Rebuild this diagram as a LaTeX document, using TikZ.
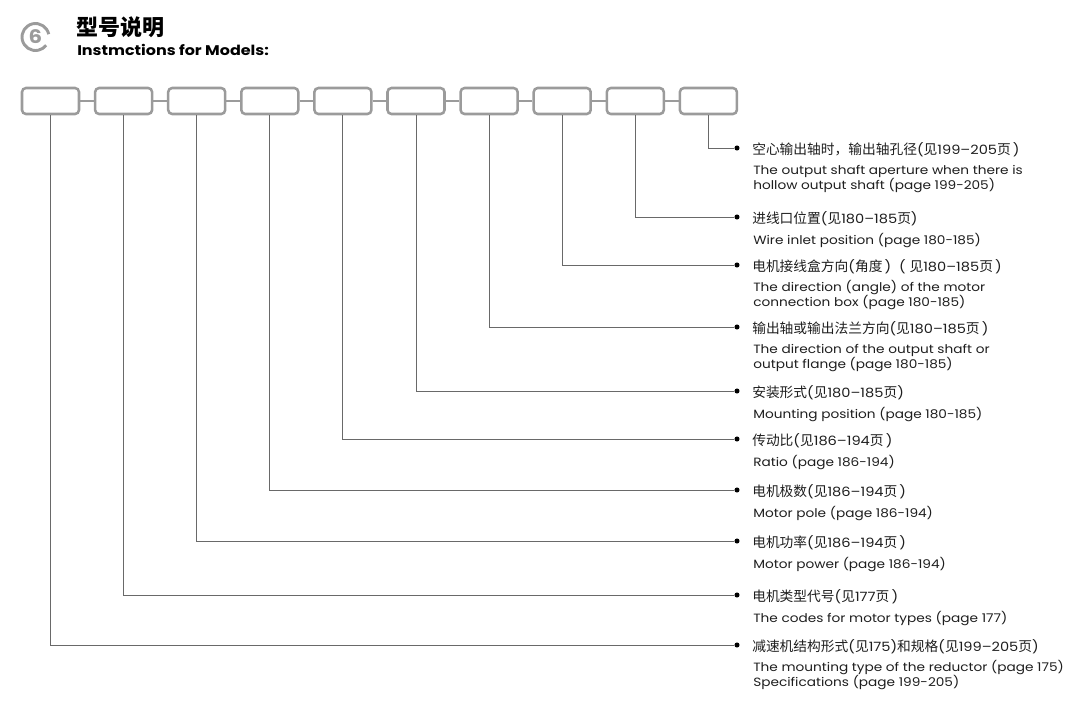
\documentclass[tikz,border=0pt]{standalone}
\usepackage{fontspec}
\setmainfont{Poppins}[FakeStretch=1.14]
\newfontfamily\cjk{Noto Sans CJK SC}
\usetikzlibrary{calc}

\definecolor{boxgray}{RGB}{155,155,155}
\definecolor{leadgray}{RGB}{105,105,105}
\definecolor{inkgray}{RGB}{30,30,30}

\newcommand\cn[1]{{\fontsize{10.3pt}{12pt}\selectfont\cjk #1}}
\newcommand\tightlines{\lineskiplimit-20pt\relax}

\tikzset{
  modelbox/.style={draw=boxgray, line width=1.9pt, rounded corners=3pt, minimum width=42.75pt, minimum height=19.5pt, inner sep=0pt},
  boxlink/.style={draw=boxgray, line width=0.8pt},
  leadline/.style={draw=leadgray, line width=0.7pt},
  leaddot/.style={circle, fill=black, inner sep=0pt, minimum size=3.8pt},
  cndesc/.style={anchor=west, inner sep=0pt, text=inkgray, font=\fontsize{9.6pt}{12pt}\selectfont},
  endesc/.style={anchor=base west, inner sep=0pt, align=left, text=inkgray, font=\fontsize{9pt}{11pt}\selectfont\tightlines},
  twoline/.style={yshift=-11pt},
}

\begin{document}
\begin{tikzpicture}[x=0.75pt,y=0.75pt,yscale=-1,xscale=1]
\useasboundingbox (0,0) rectangle (1077,701);

% Heading
\node [text=boxgray, font=\fontsize{14pt}{14pt}\selectfont\bfseries] (num) at (35.5,37) {6};
\draw [boxgray, line width=2.2pt] ($(num.center)+(-12:13.5)$) arc [start angle=-12, end angle=-322, radius=13.5];
\node [anchor=west, inner sep=0pt, font=\fontsize{16.5pt}{17pt}\selectfont\cjk\bfseries] (title) at (76,27.5) {型号说明};
\node [anchor=base west, inner sep=0pt, font=\fontsize{10.5pt}{12pt}\selectfont\bfseries] (subtitle) at (77,55) {Instmctions for Models:};

% Model code boxes
\node [modelbox] (m1) at (50.5,101) {};
\node [modelbox] (m2) at (123.6,101) {};
\node [modelbox] (m3) at (196.7,101) {};
\node [modelbox] (m4) at (269.8,101) {};
\node [modelbox] (m5) at (342.9,101) {};
\node [modelbox] (m6) at (416,101) {};
\node [modelbox] (m7) at (489.1,101) {};
\node [modelbox] (m8) at (562.2,101) {};
\node [modelbox] (m9) at (635.3,101) {};
\node [modelbox] (m10) at (708.4,101) {};
\draw [boxlink] (m1) -- (m2) (m2) -- (m3) (m3) -- (m4) (m4) -- (m5) (m5) -- (m6) (m6) -- (m7) (m7) -- (m8) (m8) -- (m9) (m9) -- (m10);

% Dots
\node [leaddot] (d10) at (737,148) {};
\node [leaddot] (d9) at (737,217) {};
\node [leaddot] (d8) at (737,265) {};
\node [leaddot] (d7) at (737,327) {};
\node [leaddot] (d6) at (737,391) {};
\node [leaddot] (d5) at (737,439) {};
\node [leaddot] (d4) at (737,490) {};
\node [leaddot] (d3) at (737,541) {};
\node [leaddot] (d2) at (737,595) {};
\node [leaddot] (d1) at (737,645) {};

% Leads
\draw [leadline] (m10.south) |- (d10);
\draw [leadline] (m9.south) |- (d9);
\draw [leadline] (m8.south) |- (d8);
\draw [leadline] (m7.south) |- (d7);
\draw [leadline] (m6.south) |- (d6);
\draw [leadline] (m5.south) |- (d5);
\draw [leadline] (m4.south) |- (d4);
\draw [leadline] (m3.south) |- (d3);
\draw [leadline] (m2.south) |- (d2);
\draw [leadline] (m1.south) |- (d1);

% Text Node
\node [cndesc] (c10) at ($(d10)+(15,1.5)$) {\cn{空心输出轴时，输出轴孔径}(\cn{见}199–205\cn{页}\,)};
\node [endesc, twoline] (e10) at ($(d10)+(16,26.5)$) {The output shaft aperture when there is\\hollow output shaft (page 199-205)};
% Text Node
\node [cndesc] (c9) at ($(d9)+(15,1.5)$) {\cn{进线口位置}(\cn{见}180–185\cn{页})};
\node [endesc] (e9) at ($(d9)+(16,27)$) {Wire inlet position (page 180-185)};
% Text Node
\node [cndesc] (c8) at ($(d8)+(15,1.5)$) {\cn{电机接线盒方向}(\cn{角度}\,)\ \ (\ \cn{见}180–185\cn{页}\,)};
\node [endesc, twoline] (e8) at ($(d8)+(16,26.5)$) {The direction (angle) of the motor\\connection box (page 180-185)};
% Text Node
\node [cndesc] (c7) at ($(d7)+(15,1.5)$) {\cn{输出轴或输出法兰方向}(\cn{见}180–185\cn{页}\,)};
\node [endesc, twoline] (e7) at ($(d7)+(16,26.5)$) {The direction of the output shaft or\\output flange (page 180-185)};
% Text Node
\node [cndesc] (c6) at ($(d6)+(15,1.5)$) {\cn{安装形式}(\cn{见}180–185\cn{页})};
\node [endesc] (e6) at ($(d6)+(16,27)$) {Mounting position (page 180-185)};
% Text Node
\node [cndesc] (c5) at ($(d5)+(15,1.5)$) {\cn{传动比}(\cn{见}186–194\cn{页}\,)};
\node [endesc] (e5) at ($(d5)+(16,27)$) {Ratio (page 186-194)};
% Text Node
\node [cndesc] (c4) at ($(d4)+(15,1.5)$) {\cn{电机极数}(\cn{见}186–194\cn{页}\,)};
\node [endesc] (e4) at ($(d4)+(16,27)$) {Motor pole (page 186-194)};
% Text Node
\node [cndesc] (c3) at ($(d3)+(15,1.5)$) {\cn{电机功率}(\cn{见}186–194\cn{页}\,)};
\node [endesc] (e3) at ($(d3)+(16,27)$) {Motor power (page 186-194)};
% Text Node
\node [cndesc] (c2) at ($(d2)+(15,1.5)$) {\cn{电机类型代号}(\cn{见}177\cn{页}\,)};
\node [endesc] (e2) at ($(d2)+(16,27)$) {The codes for motor types (page 177)};
% Text Node
\node [cndesc] (c1) at ($(d1)+(15,1.5)$) {\cn{减速机结构形式}(\cn{见}175)\cn{和规格}(\cn{见}199–205\cn{页})};
\node [endesc, twoline] (e1) at ($(d1)+(16,26.5)$) {The mounting type of the reductor (page 175)\\Specifications (page 199-205)};

\end{tikzpicture}
\end{document}
